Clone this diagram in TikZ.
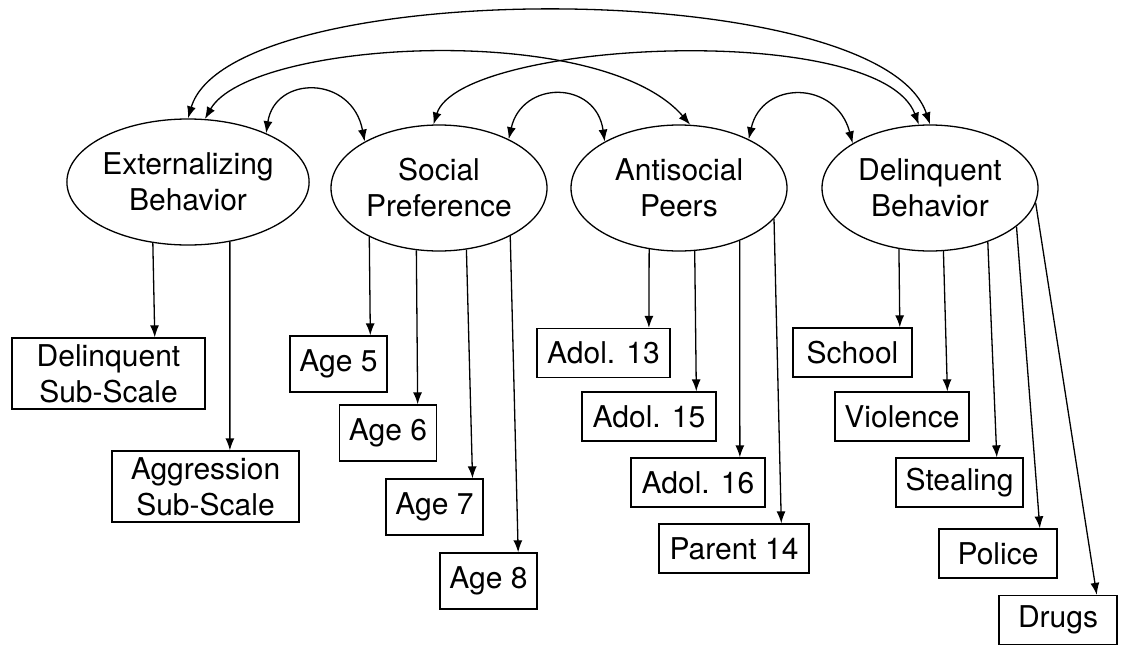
\documentclass[tikz,border=0pt]{standalone}
\usepackage{fontspec}
\setmainfont{TeX Gyre Heros}
\usetikzlibrary{shapes.geometric,arrows.meta}

\begin{document}
\begin{tikzpicture}
[x=1pt, y=-1pt, line width=1.3pt, >={Latex[length=12pt,width=9pt]},
every node/.style={font=\fontsize{30}{36}\selectfont},
latent/.style={draw, ellipse, minimum width=216pt, minimum height=126pt, inner sep=0pt, align=center},
obs/.style={draw, rectangle, minimum width=#1, minimum height=49pt, inner sep=0pt, align=center}]

\useasboundingbox (0,0) rectangle (1123,645);

% latent variables
\node[latent] (ext) at(188,182) {Externalizing\\Behavior};
\node[latent] (soc) at(439,188) {Social\\Preference};
\node[latent] (ant) at(679,188) {Antisocial\\Peers};
\node[latent] (del) at(930,188) {Delinquent\\Behavior};

% indicators
\node[obs=193pt, minimum height=71pt] (dsub) at(108.5,373.5) {Delinquent\\Sub-Scale};
\node[obs=187pt, minimum height=71pt] (aggr) at(205.5,486.5) {Aggression\\Sub-Scale};

\node[obs=97pt, minimum height=56pt] (age5) at(338.5,364) {Age 5};
\node[obs=97pt, minimum height=56pt] (age6) at(388,433) {Age 6};
\node[obs=97pt, minimum height=56pt] (age7) at(434.5,507) {Age 7};
\node[obs=97pt, minimum height=56pt] (age8) at(488.5,581) {Age 8};

\node[obs=133pt] (adol13) at(603.5,353) {Adol. 13};
\node[obs=134pt] (adol15) at(649,416.5) {Adol. 15};
\node[obs=134pt] (adol16) at(698,482.5) {Adol. 16};
\node[obs=150pt] (par14) at(734,548.5) {Parent 14};

\node[obs=119pt] (school) at(852.5,352.5) {School};
\node[obs=134pt] (viol) at(902,416.5) {Violence};
\node[obs=127pt] (steal) at(959.5,482.5) {Stealing};
\node[obs=118pt] (pol) at(998,553.5) {Police};
\node[obs=118pt] (drugs) at(1058,620) {Drugs};

% loadings
\draw[->] (ext.240) -- (dsub.38);
\draw[->] (ext.305) -- (aggr.56);

\draw[->] (soc.215) -- (age5.42);
\draw[->] (soc.250) -- (age6.44);
\draw[->] (soc.294) -- (age7.37);
\draw[->] (soc.326) -- (age8.44);

\draw[->] (ant.244) -- (adol13.29);
\draw[->] (ant.284) -- (adol15.28);
\draw[->] (ant.319) -- (adol16.31);
\draw[->] (ant.342) -- (par14.28);

\draw[->] (del.243) -- (school.28);
\draw[->] (del.282) -- (viol.29);
\draw[->] (del.317) -- (steal.34);
\draw[->] (del.336) -- (pol.31);
\draw[->] (del.352) -- (drugs.33);

% correlations
\draw[<->] (ext.north) .. controls (230,-25) and (880,-25) .. (del.north);
\draw[<->] (ext.75) .. controls (250,40) and (600,20) .. (ant.80);
\draw[<->] (soc.95) .. controls (460,40) and (880,20) .. (del.100);
\draw[<->] (ext.32) .. controls (275,75) and (352,75) .. (soc.148);
\draw[<->] (soc.35) .. controls (522,80) and (596,80) .. (ant.148);
\draw[<->] (ant.35) .. controls (762,80) and (836,80) .. (del.150);
\end{tikzpicture}
\end{document}
